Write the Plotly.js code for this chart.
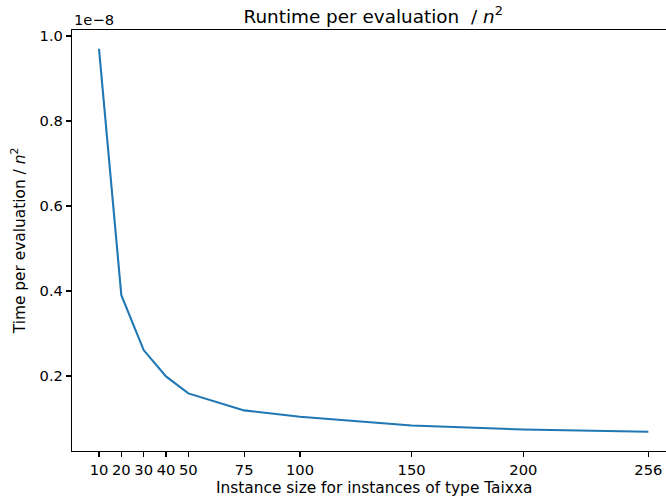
<!DOCTYPE html>
<html>
<head>
<meta charset="utf-8">
<script src="https://cdn.plot.ly/plotly-3.0.1.min.js"></script>
<style>html,body{margin:0;padding:0;background:#fff;}#chart{width:666px;height:502px;}</style>
</head>
<body>
<div id="chart"></div>
<script>
// Instance sizes n
var sizes = [10, 20, 30, 40, 50, 75, 100, 150, 200, 256];
// Time per evaluation / n^2, in units of 1e-8
var timePerEval = [0.970, 0.390, 0.261, 0.199, 0.159, 0.119, 0.104, 0.0836, 0.074, 0.0688];
var xTickLabels = ["10", "20", "30", "40", "50", "75", "100", "150", "200", "256"];
var yTickVals = [0.2, 0.4, 0.6, 0.8, 1.0];
var yTickLabels = ["0.2", "0.4", "0.6", "0.8", "1.0"];

var tickFont = {family: "DejaVu Sans, sans-serif", size: 14.7, color: "#000"};
var labelFont = {family: "DejaVu Sans, sans-serif", size: 15.4, color: "#000"};

var trace = {
  x: sizes,
  y: timePerEval,
  type: "scatter",
  mode: "lines",
  line: {color: "#1f77b4", width: 2.1},
  hoverinfo: "skip"
};

var layout = {
  width: 666,
  height: 502,
  margin: {l: 72, r: 0, t: 30, b: 51, pad: 0},
  paper_bgcolor: "#fff",
  plot_bgcolor: "#fff",
  font: tickFont,
  showlegend: false,
  title: {
    text: "Runtime per evaluation  / <i>n</i><sup>2</sup>",
    font: {family: "DejaVu Sans, sans-serif", size: 18.4, color: "#000"},
    x: 0.507, xref: "paper", xanchor: "center",
    y: 0.968, yref: "container", yanchor: "middle"
  },
  xaxis: {
    range: [-2.09, 263.9],
    tickmode: "array",
    tickvals: sizes,
    ticktext: xTickLabels,
    ticks: "outside", ticklen: 5, tickwidth: 1.1, tickcolor: "#000",
    showline: true, linecolor: "#000", linewidth: 1.1, mirror: true,
    showgrid: false, zeroline: false,
    tickfont: tickFont
  },
  yaxis: {
    range: [0.0235, 1.0141],
    tickmode: "array",
    tickvals: yTickVals,
    ticktext: yTickLabels,
    ticks: "outside", ticklen: 5, tickwidth: 1.1, tickcolor: "#000",
    showline: true, linecolor: "#000", linewidth: 1.1, mirror: false,
    showgrid: false, zeroline: false,
    tickfont: tickFont,
    title: {text: "Time per evaluation / <i>n</i><sup>2</sup>", font: labelFont, standoff: 10}
  },
  annotations: [{
    text: "1e\u22128",
    xref: "paper", yref: "paper",
    x: 0, y: 1, xanchor: "left", yanchor: "bottom",
    yshift: 0, showarrow: false,
    font: tickFont
  }, {
    text: "Instance size for instances of type Taixxa",
    xref: "paper", yref: "paper",
    x: 0.5084, y: -0.0879, xanchor: "center", yanchor: "middle",
    showarrow: false,
    font: labelFont
  }]
};

Plotly.newPlot("chart", [trace], layout, {displayModeBar: false, staticPlot: true});
</script>
</body>
</html>
